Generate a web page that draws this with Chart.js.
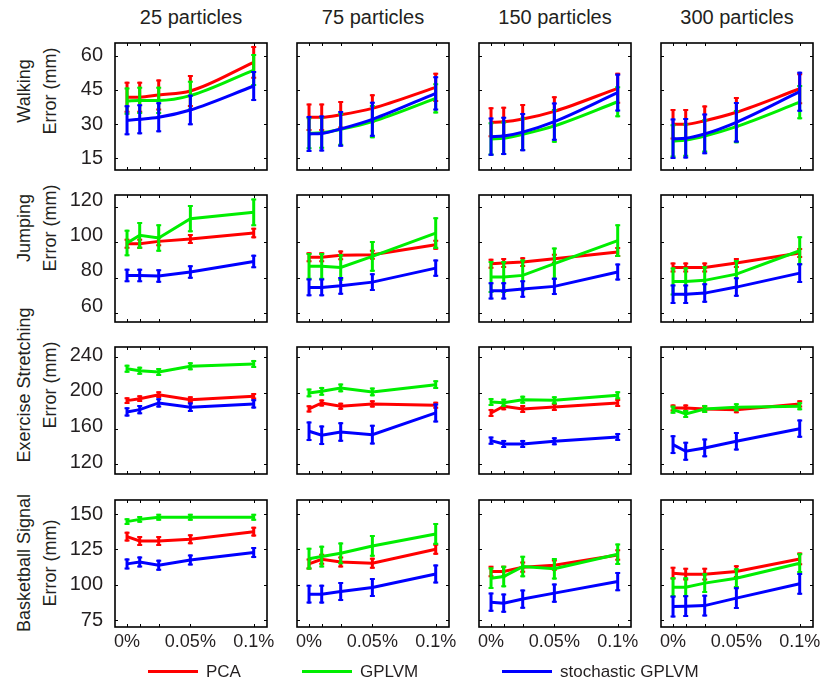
<!DOCTYPE html>
<html>
<head>
<meta charset="utf-8">
<script src="https://cdn.jsdelivr.net/npm/chart.js@4.4.0/dist/chart.umd.min.js"></script>
<style>
  body { margin: 0; background: #fff; font-family: "Liberation Sans", Arial, sans-serif; color: #231f20; }
  #fig { position: relative; width: 832px; height: 690px; overflow: hidden; }
  #fig canvas { position: absolute; }
  .ttl { position: absolute; top: 5px; font-size: 20px; line-height: 24px; white-space: nowrap; transform: translateX(-50%); }
  .ylab { position: absolute; font-size: 18px; line-height: 26px; text-align: center; white-space: nowrap;
          transform: translate(-50%, -50%) rotate(-90deg); }
  .leg { position: absolute; top: 661px; font-size: 17px; line-height: 22px; white-space: nowrap; }
  .leg i { display: inline-block; width: 50px; height: 3px; vertical-align: middle; margin-right: 8px; position: relative; top: -1px; }
</style>
</head>
<body>
<div id="fig"></div>
<script>
// ---- DATA ----
const particles = ['25 particles', '75 particles', '150 particles', '300 particles'];
const noiseLevels = [0, 0.01, 0.025, 0.05, 0.1];   // noise in %
const xTickText = { 0: '0%', 0.05: '0.05%', 0.1: '0.1%' };
const methodNames = ['PCA', 'GPLVM', 'stochastic GPLVM'];

// one inner array per particle count (25, 75, 150, 300)
const walkPca    = [[41.8, 41.8, 42.8, 44.5, 57.1], [33.0, 33.0, 34.1, 36.9, 46.1], [30.8, 31.0, 32.2, 35.6, 45.7], [29.9, 29.9, 31.5, 35.2, 45.5]];
const walkPcaErr = [[6.8, 6.8, 6.8, 7.0, 7.2], [6.0, 6.0, 6.0, 6.2, 6.4], [6.6, 6.6, 6.6, 6.6, 6.8], [6.7, 6.7, 6.7, 6.7, 6.8]];
const walkGp     = [[40.1, 40.4, 40.4, 42.5, 53.7], [26.0, 26.2, 27.7, 31.1, 41.3], [23.5, 23.8, 25.5, 29.2, 39.8], [22.6, 23.0, 24.8, 28.9, 39.6]];
const walkGpErr  = [[6.0, 6.0, 6.0, 6.5, 7.0], [7.0, 7.0, 7.2, 7.3, 6.6], [7.3, 7.3, 7.3, 7.4, 6.8], [7.3, 7.3, 7.3, 7.3, 7.5]];
const walkSgp    = [[31.7, 32.1, 33.0, 36.2, 46.7], [25.7, 25.9, 27.9, 32.1, 43.5], [24.5, 24.8, 26.5, 31.1, 43.8], [23.6, 23.8, 25.7, 30.8, 44.2]];
const walkSgpErr = [[6.6, 6.6, 6.6, 6.7, 6.6], [7.9, 7.9, 7.8, 7.7, 7.5], [8.4, 8.4, 8.4, 8.4, 8.3], [8.9, 8.9, 8.9, 8.9, 8.8]];

const jumpPca    = [[99.3, 99.3, 100.6, 101.9, 105.3], [91.6, 91.6, 92.7, 93.1, 98.7], [88.0, 88.4, 88.9, 90.8, 94.6], [85.9, 85.9, 85.9, 88.4, 94.0]];
const jumpPcaErr = [[2.8, 2.8, 2.8, 2.8, 3.0], [2.8, 2.8, 2.8, 2.8, 2.8], [2.8, 2.8, 2.8, 2.8, 2.8], [2.8, 2.8, 2.8, 2.8, 2.8]];
const jumpGp     = [[99.7, 104.0, 102.5, 113.4, 117.0], [86.5, 86.5, 85.9, 92.1, 105.3], [80.5, 80.5, 81.4, 88.0, 101.0], [78.0, 78.0, 78.6, 82.1, 95.3]];
const jumpGpErr  = [[7.5, 7.5, 7.7, 7.7, 7.8], [7.5, 7.5, 7.5, 8.7, 8.9], [9.0, 9.0, 9.0, 9.1, 9.2], [7.9, 7.9, 7.9, 8.0, 8.2]];
const jumpSgp    = [[81.4, 81.4, 81.0, 83.3, 89.3], [74.6, 74.6, 75.5, 77.6, 85.5], [72.7, 72.7, 73.7, 75.2, 83.3], [70.8, 70.8, 71.4, 74.8, 82.7]];
const jumpSgpErr = [[3.8, 3.8, 3.8, 3.8, 3.8], [5.0, 5.0, 5.0, 5.0, 4.9], [4.9, 4.9, 4.9, 4.9, 4.8], [5.5, 5.5, 5.5, 5.5, 5.6]];

const strPca     = [[191.4, 193.6, 198.1, 192.5, 196.3], [182.1, 188.8, 185.1, 187.7, 186.2], [177.6, 185.1, 182.1, 184.3, 188.8], [183.2, 183.2, 182.1, 181.3, 187.7]];
const strPcaErr  = [[3.7, 3.7, 3.7, 3.7, 3.7], [4.0, 4.0, 4.0, 4.0, 4.0], [4.5, 4.5, 4.5, 4.5, 4.5], [4.0, 4.0, 4.0, 4.0, 4.0]];
const strGp      = [[227.2, 225.0, 223.5, 229.9, 232.5], [200.0, 201.9, 205.6, 201.1, 209.3], [189.9, 189.1, 192.5, 191.8, 197.4], [181.3, 176.5, 182.1, 184.0, 185.1]];
const strGpErr   = [[4.5, 4.5, 4.5, 4.5, 4.5], [4.9, 4.9, 4.9, 4.9, 4.9], [4.5, 4.5, 4.5, 4.5, 4.5], [4.5, 4.5, 4.5, 4.5, 4.5]];
const strSgp     = [[178.7, 181.3, 188.8, 184.0, 187.7], [157.1, 152.6, 156.3, 153.3, 177.6], [146.6, 142.9, 142.9, 145.9, 150.7], [142.1, 134.7, 138.4, 145.9, 160.0]];
const strSgpErr  = [[5.2, 5.2, 5.2, 5.2, 5.2], [11.0, 11.0, 11.0, 11.0, 10.6], [4.5, 4.5, 4.5, 4.5, 4.5], [10.6, 10.6, 10.5, 10.4, 10.3]];

const bbPca      = [[134.0, 130.9, 130.9, 132.1, 137.5], [114.7, 118.0, 116.1, 115.2, 125.0], [109.3, 109.3, 112.4, 113.8, 121.0], [108.1, 107.4, 107.4, 109.3, 118.2]];
const bbPcaErr   = [[3.5, 3.5, 3.5, 3.5, 3.5], [3.9, 3.9, 3.9, 3.9, 3.9], [4.0, 4.0, 4.0, 4.0, 4.0], [4.5, 4.5, 4.5, 4.5, 4.5]];
const bbGp       = [[144.6, 146.2, 147.7, 147.7, 147.7], [118.4, 119.9, 122.2, 127.4, 135.9], [104.6, 105.7, 112.8, 111.2, 121.5], [98.2, 98.2, 101.1, 104.6, 115.2]];
const bbGpErr    = [[2.4, 2.4, 2.4, 2.4, 2.4], [7.7, 7.7, 7.7, 7.7, 7.7], [7.6, 7.6, 7.6, 7.6, 7.6], [7.0, 7.0, 7.0, 7.0, 7.0]];
const bbSgp      = [[114.7, 116.1, 113.8, 117.5, 122.7], [93.3, 93.3, 95.1, 98.0, 107.6], [87.6, 86.9, 89.8, 94.0, 102.2], [84.5, 84.8, 85.2, 90.5, 100.6]];
const bbSgpErr   = [[3.9, 3.9, 3.9, 3.9, 3.9], [6.7, 6.7, 6.7, 6.7, 6.7], [6.8, 6.8, 6.8, 6.8, 6.8], [7.7, 7.7, 7.7, 7.7, 7.7]];

const walkTicks = [15, 30, 45, 60];
const jumpTicks = [60, 80, 100, 120];
const strTicks  = [120, 160, 200, 240];
const bbTicks   = [75, 100, 125, 150];

// ---- LAYOUT ----
const colLeft = [115, 297, 479, 661];
const rowTop = [43, 195, 347, 500];
const PW = 152, PH = 127;
const AX_W = 50, AX_H = 30, PAD_T = 30, PAD_R = 24;
const X_MIN = -0.0095, X_MAX = 0.1105;
const colors = ['#ff0000', '#00ee00', '#0000ff'];
const inkColor = '#231f20';

const rows = [
  { label: ['Walking', 'Error (mm)'], cy: 91, ticks: walkTicks, range: [9.87, 65.57], labelShift: 0, smooth: true,
    means: [walkPca, walkGp, walkSgp], errs: [walkPcaErr, walkGpErr, walkSgpErr] },
  { label: ['Jumping', 'Error (mm)'], cy: 228, ticks: jumpTicks, range: [55.1, 126.77], labelShift: -7, smooth: false,
    means: [jumpPca, jumpGp, jumpSgp], errs: [jumpPcaErr, jumpGpErr, jumpSgpErr] },
  { label: ['Exercise Stretching', 'Error (mm)'], cy: 385, ticks: strTicks, range: [109.2, 251.5], labelShift: -2, smooth: false,
    means: [strPca, strGp, strSgp], errs: [strPcaErr, strGpErr, strSgpErr] },
  { label: ['Basketball Signal', 'Error (mm)'], cy: 563, ticks: bbTicks, range: [70.05, 159.9], labelShift: 0, smooth: false,
    means: [bbPca, bbGp, bbSgp], errs: [bbPcaErr, bbGpErr, bbSgpErr] }
];

// ---- PLUGINS ----
const errorBars = {
  id: 'errorBars',
  afterDatasetDraw(chart, args) {
    const ds = chart.data.datasets[args.index];
    if (!ds.errs) return;
    const xs = chart.scales.x, ys = chart.scales.y, ctx = chart.ctx;
    ctx.save();
    ctx.strokeStyle = ds.borderColor;
    ctx.lineWidth = 3;
    ctx.lineCap = 'butt';
    ds.data.forEach((p, i) => {
      const px = xs.getPixelForValue(p.x);
      const top = ys.getPixelForValue(p.y + ds.errs[i]);
      const bot = ys.getPixelForValue(p.y - ds.errs[i]);
      ctx.beginPath();
      ctx.moveTo(px, top); ctx.lineTo(px, bot);
      ctx.stroke();
      // tiny caps
      ctx.lineWidth = 2;
      ctx.beginPath();
      ctx.moveTo(px - 2.5, top + 1); ctx.lineTo(px + 2.5, top + 1);
      ctx.moveTo(px - 2.5, bot - 1); ctx.lineTo(px + 2.5, bot - 1);
      ctx.stroke();
      ctx.lineWidth = 3;
    });
    ctx.restore();
  }
};

const axesBox = {
  id: 'axesBox',
  afterDraw(chart) {
    const { left, right, top, bottom } = chart.chartArea;
    const ctx = chart.ctx;
    ctx.save();
    ctx.strokeStyle = '#000';
    ctx.lineWidth = 1;
    chart.scales.y.ticks.forEach(t => {
      const py = Math.round(chart.scales.y.getPixelForValue(t.value)) + 0.5;
      ctx.beginPath();
      ctx.moveTo(left, py); ctx.lineTo(left + 3, py);
      ctx.moveTo(right, py); ctx.lineTo(right - 3, py);
      ctx.stroke();
    });
    chart.scales.x.ticks.forEach(t => {
      const px = Math.round(chart.scales.x.getPixelForValue(t.value)) + 0.5;
      ctx.beginPath();
      ctx.moveTo(px, top); ctx.lineTo(px, top + 3);
      ctx.moveTo(px, bottom); ctx.lineTo(px, bottom - 3);
      ctx.stroke();
    });
    ctx.lineWidth = 1.6;
    ctx.strokeRect(left, top, right - left, bottom - top);
    ctx.restore();
  }
};

// ---- BUILD ----
const fig = document.getElementById('fig');

particles.forEach((name, c) => {
  const t = document.createElement('div');
  t.className = 'ttl';
  t.style.left = (colLeft[c] + PW / 2) + 'px';
  t.textContent = name;
  fig.appendChild(t);
});

rows.forEach((row, r) => {
  const yl = document.createElement('div');
  yl.className = 'ylab';
  yl.style.left = '37px';
  yl.style.top = row.cy + 'px';
  yl.innerHTML = row.label[0] + '<br>' + row.label[1];
  fig.appendChild(yl);

  particles.forEach((name, c) => {
    const canvas = document.createElement('canvas');
    const w = AX_W + PW + PAD_R, h = PAD_T + PH + AX_H;
    canvas.width = w; canvas.height = h;
    canvas.style.width = w + 'px'; canvas.style.height = h + 'px';
    canvas.style.left = (colLeft[c] - AX_W) + 'px';
    canvas.style.top = (rowTop[r] - PAD_T) + 'px';
    fig.appendChild(canvas);

    const datasets = methodNames.map((m, k) => ({
      label: m,
      data: noiseLevels.map((x, i) => ({ x: x, y: row.means[k][c][i] })),
      errs: row.errs[k][c],
      borderColor: colors[k],
      borderWidth: 3,
      pointRadius: 0,
      cubicInterpolationMode: row.smooth ? 'monotone' : 'default',
      order: 3 - k
    }));

    new Chart(canvas, {
      type: 'line',
      data: { datasets },
      options: {
        responsive: false,
        animation: false,
        devicePixelRatio: 1,
        layout: { padding: { top: PAD_T, right: PAD_R, left: 0, bottom: 0 } },
        plugins: { legend: { display: false }, tooltip: { enabled: false } },
        scales: {
          x: {
            type: 'linear', min: X_MIN, max: X_MAX,
            grid: { display: false, drawTicks: false },
            border: { display: false },
            afterBuildTicks: s => { s.ticks = noiseLevels.map(v => ({ value: v })); },
            afterFit: s => { s.height = AX_H; },
            ticks: {
              display: r === 3, autoSkip: false, maxRotation: 0, padding: 4,
              color: inkColor, font: { family: '"Liberation Sans", Arial', size: 18 },
              callback: v => xTickText[v] || ''
            }
          },
          y: {
            min: row.range[0], max: row.range[1],
            grid: { display: false, drawTicks: false },
            border: { display: false },
            afterBuildTicks: s => { s.ticks = row.ticks.map(v => ({ value: v })); },
            afterFit: s => { s.width = AX_W; },
            ticks: {
              display: c === 0, padding: 12, labelOffset: row.labelShift,
              color: inkColor, font: { family: '"Liberation Sans", Arial', size: 20 }
            }
          }
        }
      },
      plugins: [errorBars, axesBox]
    });
  });
});

// ---- LEGEND ----
const legendX = [148, 302, 502];
methodNames.forEach((m, k) => {
  const el = document.createElement('div');
  el.className = 'leg';
  el.style.left = legendX[k] + 'px';
  el.innerHTML = '<i style="background:' + colors[k] + '"></i>' + m;
  fig.appendChild(el);
});
</script>
</body>
</html>
